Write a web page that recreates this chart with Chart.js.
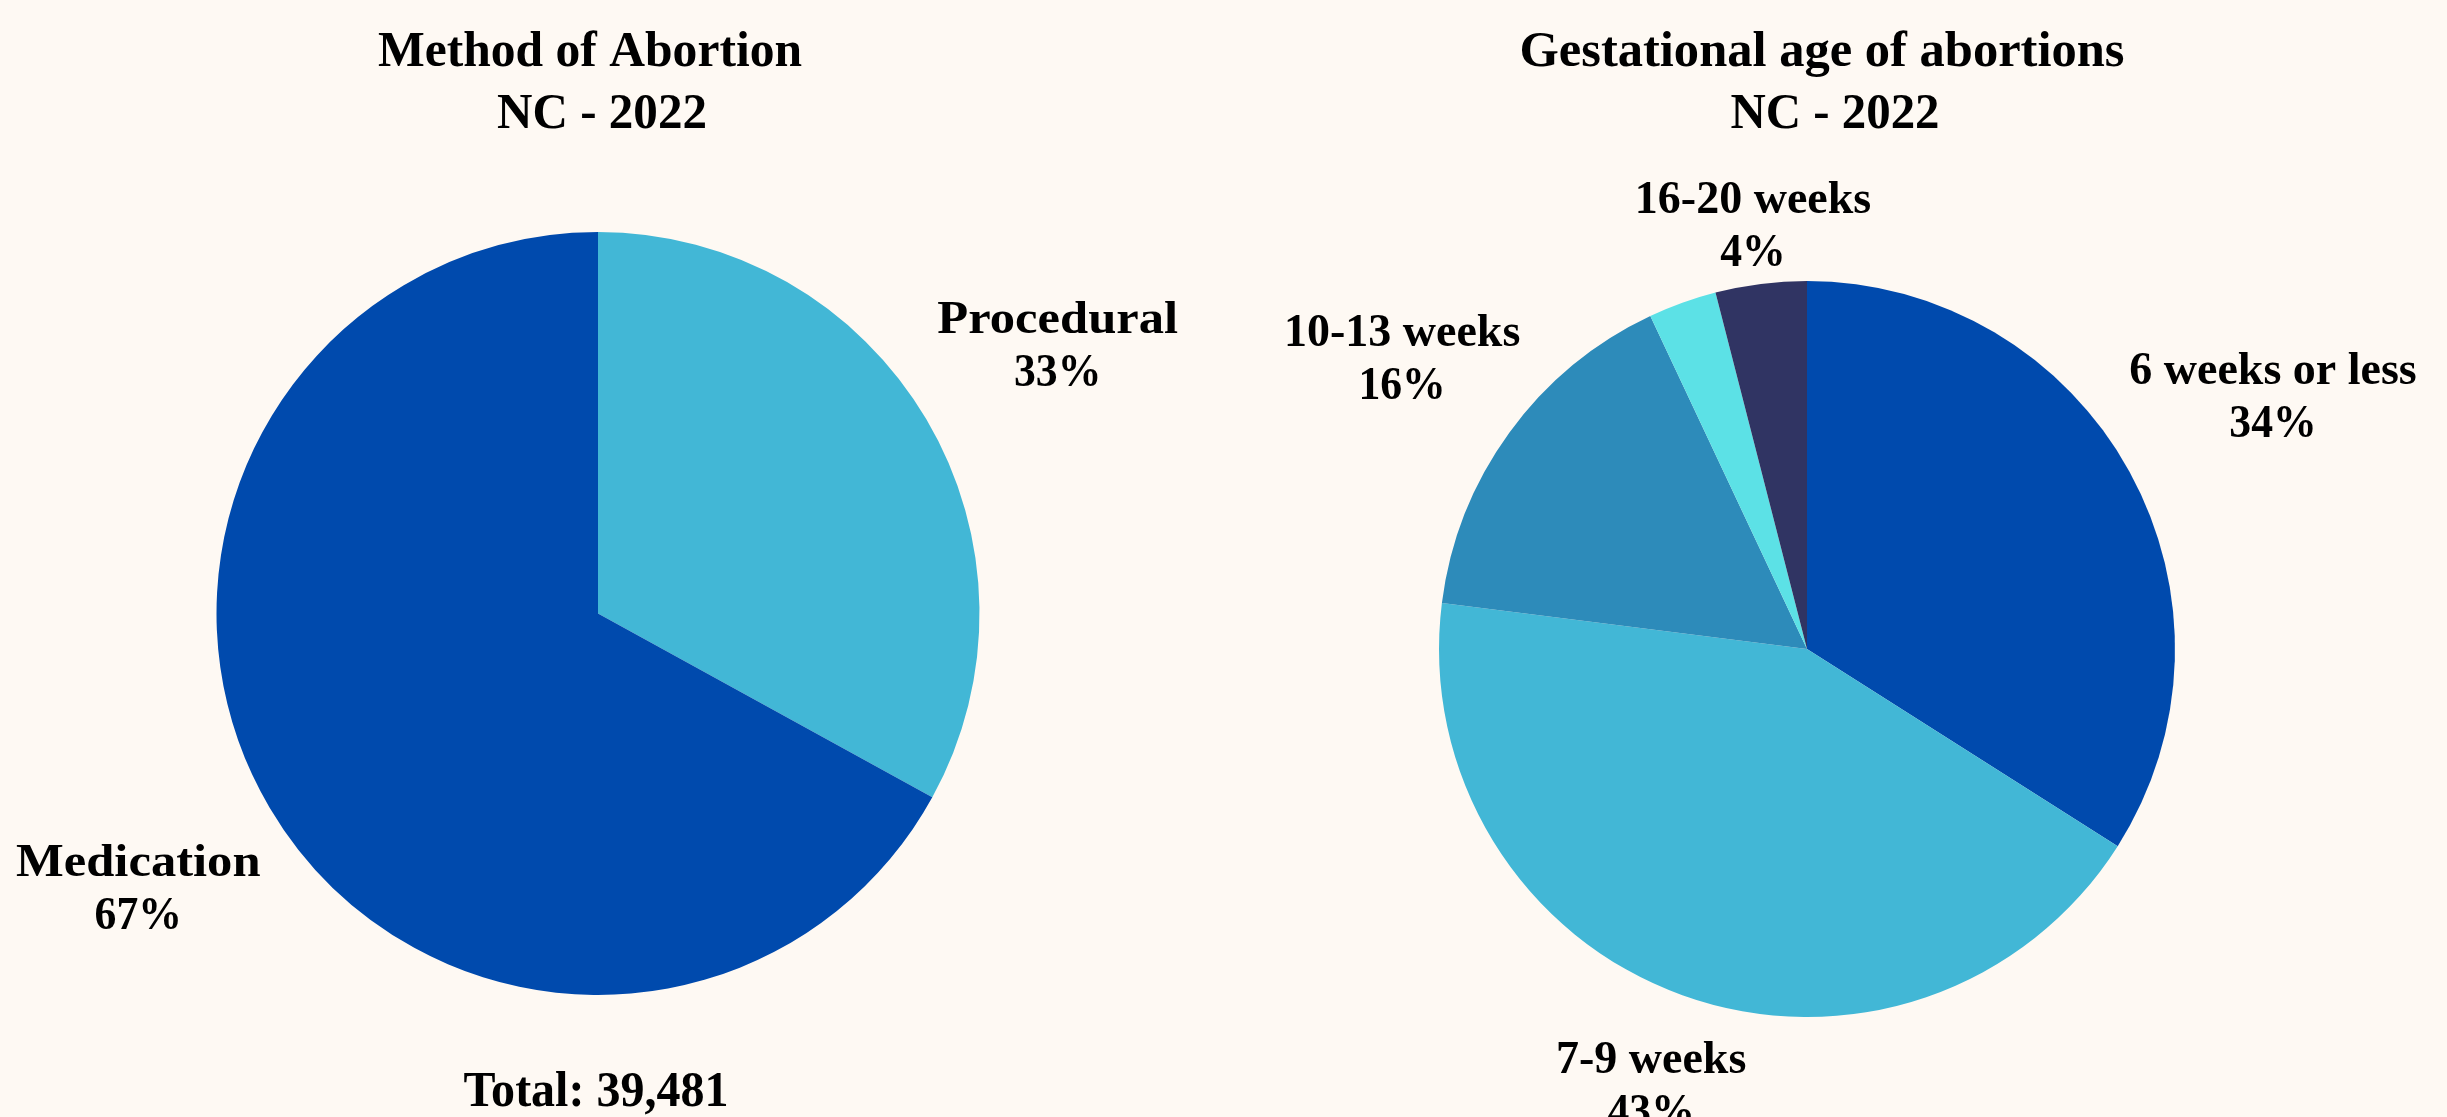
<!DOCTYPE html>
<html>
<head>
<meta charset="utf-8">
<script src="https://cdn.jsdelivr.net/npm/chart.js@4.4.0/dist/chart.umd.min.js"></script>
<style>
  html, body { margin: 0; padding: 0; background: #FEF9F3; }
  body { width: 2447px; height: 1117px; position: relative; overflow: hidden; }
  canvas { position: absolute; top: 0; }
  #method { left: 0; }
  #age { left: 1224px; }
</style>
</head>
<body>
<canvas id="method" width="1224" height="1117"></canvas>
<canvas id="age" width="1223" height="1117"></canvas>
<script>
// data
var methodLabels = ["Procedural", "Medication"];
var methodValues = [33, 67];
var methodTotal = "39,481";

var ageLabels = ["6 weeks or less", "7-9 weeks", "10-13 weeks", "14-15 weeks", "16-20 weeks"];
var ageValues = [34, 43, 16, 3, 4];

var serif = "'Liberation Serif', 'DejaVu Serif', serif";

// text drawn with a horizontal stretch so the widths come out like the original face
function wideText(ctx, text, x, y, sx) {
  ctx.save();
  ctx.translate(x, y);
  ctx.scale(sx, 1);
  ctx.fillText(text, 0, 0);
  ctx.restore();
}

// draws the titles and the outside slice labels
var textPlugin = {
  id: 'textBlocks',
  afterDatasetsDraw: function (chart, args, opts) {
    var ctx = chart.ctx;
    ctx.save();
    ctx.fillStyle = '#000';
    ctx.textAlign = 'center';
    ctx.textBaseline = 'middle';

    (opts.texts || []).forEach(function (t) {
      ctx.font = 'bold ' + t.size + 'px ' + serif;
      var sx = t.width / ctx.measureText(t.text).width;
      wideText(ctx, t.text, t.x, t.y, sx);
    });

    var meta = chart.getDatasetMeta(0);
    var values = chart.data.datasets[0].data;
    var total = values.reduce(function (a, b) { return a + b; }, 0);
    ctx.font = 'bold 46px ' + serif;
    meta.data.forEach(function (arc, i) {
      var f = opts.dist[i];
      if (!f) return;
      var p = arc.getProps(['x', 'y', 'startAngle', 'endAngle', 'outerRadius'], true);
      var mid = (p.startAngle + p.endAngle) / 2;
      var cx = p.x + Math.cos(mid) * p.outerRadius * f;
      var cy = p.y + Math.sin(mid) * p.outerRadius * f;
      var pct = Math.round(values[i] / total * 100) + '%';
      wideText(ctx, chart.data.labels[i], cx, cy - 21, opts.stretch);
      wideText(ctx, pct, cx, cy + 32, 0.95);
    });
    ctx.restore();
  }
};

var ctx = document.getElementById("method").getContext('2d');
var methodChart = new Chart(ctx, {
  type: 'pie',
  data: {
    labels: methodLabels,
    datasets: [{
      data: methodValues,
      backgroundColor: ["#42B7D6", "#004AAD"],
      borderWidth: 0
    }]
  },
  options: {
    responsive: false,
    animation: false,
    devicePixelRatio: 1,
    layout: { padding: { left: 216, right: 244, top: 232, bottom: 122 } },
    plugins: {
      legend: { display: false },
      tooltip: { enabled: false },
      textBlocks: {
        dist: [1.4, 1.4],
        stretch: 1.1,
        texts: [
          { text: "Method of Abortion", x: 590, y: 53, size: 50, width: 424 },
          { text: "NC - 2022", x: 602, y: 115, size: 50, width: 210 },
          { text: "Total: " + methodTotal, x: 596, y: 1093, size: 51, width: 265 }
        ]
      }
    }
  },
  plugins: [textPlugin]
});

var ctx = document.getElementById("age").getContext('2d');
var ageChart = new Chart(ctx, {
  type: 'pie',
  data: {
    labels: ageLabels,
    datasets: [{
      data: ageValues,
      backgroundColor: ["#004AAD", "#42B7D6", "#2D8BBA", "#5CE1E6", "#303463"],
      borderWidth: 0
    }]
  },
  options: {
    responsive: false,
    animation: false,
    devicePixelRatio: 1,
    layout: { padding: { left: 215, right: 272, top: 281, bottom: 100 } },
    plugins: {
      legend: { display: false },
      tooltip: { enabled: false },
      textBlocks: {
        dist: [1.445, 1.25, 1.36, null, 1.17],
        stretch: 1.0,
        texts: [
          { text: "Gestational age of abortions", x: 598, y: 53, size: 50, width: 605 },
          { text: "NC - 2022", x: 611, y: 115, size: 50, width: 209 }
        ]
      }
    }
  },
  plugins: [textPlugin]
});
</script>
</body>
</html>
